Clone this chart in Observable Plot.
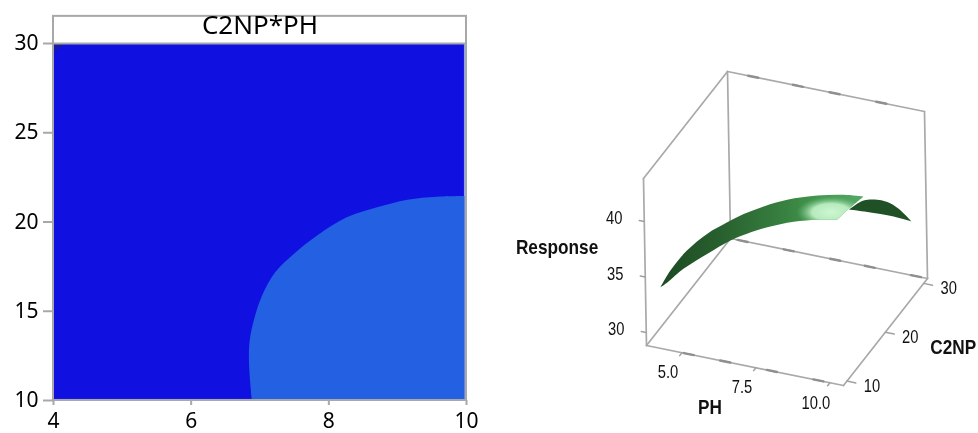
<!DOCTYPE html>
<html>
<head>
<meta charset="utf-8">
<script src="https://cdn.jsdelivr.net/npm/d3@7"></script>
<script src="https://cdn.jsdelivr.net/npm/@observablehq/plot@0.6"></script>
<style>
html,body{margin:0;padding:0;background:#fff;width:978px;height:433px;overflow:hidden}
#left,#right{position:absolute;top:0}
#left{left:0;filter:blur(.35px)}
#right{left:480px;filter:blur(.6px)}
svg{display:block;overflow:visible;background:transparent}
</style>
</head>
<body>
<div id="left"></div>
<div id="right"></div>
<script>
// ---- contour panel ----
const contourTitle = "C2NP*PH";
const phTicks = [4, 6, 8, 10];
const c2npTicks = [10, 15, 20, 25, 30];
const bandPH =   [6.88, 6.84, 6.85, 6.91, 7.03, 7.22, 7.49, 7.83, 8.26, 8.70, 9.14, 9.57, 10];
const bandC2NP = [10, 12.15, 13.36, 14.48, 15.88, 17.18, 18.21, 19.24, 20.26, 20.82, 21.25, 21.42, 21.46];
const cornerPH =   [4, 4.17, 4.03, 4];
const cornerC2NP = [30, 30, 29.55, 29.55];

// ---- surface panel ----
const sheetPH = [4.19, 4.43, 4.83, 5.31, 5.79, 6.18, 6.65, 7.20, 7.91, 8.52, 8.98, 8.63, 8.35, 7.88, 7.34, 6.72, 6.24, 5.85, 5.30, 4.74, 4.36];
const sheetC2NP = [10, 10.8, 12.1, 13.7, 15.3, 16.6, 18.2, 20.1, 22.5, 24.6, 26.2, 25, 24.1, 22.5, 20.6, 18.5, 16.9, 15.6, 13.7, 11.9, 10.5];
const sheetResponse = [33.9, 35.18, 36.62, 37.68, 38.28, 38.66, 38.9, 38.96, 38.67, 38.14, 37.53, 36.76, 36.02, 36.47, 36.84, 36.93, 36.78, 36.55, 35.87, 35.04, 34.2];
const foldPH = [8.63, 8.98, 9.29, 9.53, 9.79, 10.08, 9.67, 9.06];
const foldC2NP = [25, 26.2, 27.3, 28.1, 29, 30, 28.6, 26.5];
const foldResponse = [36.69, 37.17, 36.93, 36.49, 35.63, 34.21, 35.05, 36.04];
const responseTicks = [30, 35, 40];
const phAxisTicks = [5, 7.5, 10];
const phAxisLabels = ["5.0", "7.5", "10.0"];
const c2npAxisTicks = [10, 20, 30];
const phDashesFront = [5.23, 6.46, 8.04, 9.61];
const phDashesTop = [4.67, 6.18, 7.42, 9.0];
const phDashesBack = [4.21, 5.77, 7.34, 8.51, 10.07];
const PH_MIN = 3.8, PH_MAX = 10.46, C_MIN = 9.1, C_MAX = 31, R_MIN = 28.83, R_MAX = 43.88;

// Repeating a vertex makes a sharp corner in a Catmull-Rom outline.
const sharp = (rows, corners) => rows.flatMap((d, i) => corners.includes(i) ? [d, d] : [d]);

// ---- left panel ----
const band = bandPH.map((x, i) => ({x: Math.min(x, 9.97), y: Math.max(bandC2NP[i], 10.06)}));
const bandClosed = sharp([...band, {x: 9.97, y: 10.06}, band[0]], [0, band.length - 1, band.length, band.length + 1]);
const corner = cornerPH.map((x, i) => ({x, y: cornerC2NP[i]}));
const left = Plot.plot({
  width: 480, height: 433,
  marginLeft: 53, marginRight: 14, marginTop: 43, marginBottom: 33,
  style: {background: "transparent", fontFamily: "'Noto Sans', sans-serif", overflow: "visible"},
  x: {domain: [4, 10]},
  y: {domain: [10, 30]},
  marks: [
    Plot.rect([{x1: 4, x2: 10, y1: 10, y2: 30}], {x1: "x1", x2: "x2", y1: "y1", y2: "y2", fill: "#8aa4f6"}),
    Plot.rect([{x1: 4, x2: 9.97, y1: 10.06, y2: 30}], {x1: "x1", x2: "x2", y1: "y1", y2: "y2", fill: "#1010e0"}),
    Plot.line(bandClosed, {x: "x", y: "y", fill: "#2460e2", stroke: "none", curve: "catmull-rom"}),
    Plot.line(corner, {x: "x", y: "y", fill: "#1a1aa8", stroke: "none"}),
    Plot.rect([{x1: 4, x2: 10, y1: 10, y2: 31.52}], {x1: "x1", x2: "x2", y1: "y1", y2: "y2", fill: "none", stroke: "#a8a8a8", strokeWidth: 2}),
    Plot.ruleY([30], {x1: 4, x2: 10, stroke: "#a8a8a8", strokeWidth: 2}),
    Plot.text([contourTitle], {x: 7, y: 30.98, text: d => d, fontSize: 26, fill: "#000"}),
    Plot.axisX({ticks: phTicks, tickFormat: d => d, tickSize: 5, tickPadding: 8, fontSize: 21, stroke: "#a8a8a8", fill: "#000", strokeWidth: 2, label: null}),
    Plot.axisY({ticks: c2npTicks, tickFormat: d => d, tickSize: 10, tickPadding: 5, fontSize: 21, stroke: "#a8a8a8", fill: "#000", strokeWidth: 2, label: null})
  ]
});
document.getElementById("left").append(left);

// ---- right panel: oblique view of (PH, C2NP, Response) ----
const viewX = (p, c, r) => 646 + 197 * (p - PH_MIN) / (PH_MAX - PH_MIN) + 84 * (c - C_MIN) / (C_MAX - C_MIN) - 3 * (r - R_MIN) / (R_MAX - R_MIN);
const viewY = (p, c, r) => 345 + 40 * (p - PH_MIN) / (PH_MAX - PH_MIN) - 107 * (c - C_MIN) / (C_MAX - C_MIN) - 167 * (r - R_MIN) / (R_MAX - R_MIN);
const pt = (p, c, r, id) => ({x: viewX(p, c, r), y: viewY(p, c, r), id});
const seg = (id, a, b) => [pt(...a, id), pt(...b, id)];

const sheetRaw = sheetPH.map((p, i) => pt(p, sheetC2NP[i], sheetResponse[i]));
const sheet = sharp([...sheetRaw, sheetRaw[0]], [0, 10, 11, 12, sheetRaw.length]);
const foldRaw = foldPH.map((p, i) => pt(p, foldC2NP[i], foldResponse[i]));
const fold = sharp([...foldRaw, foldRaw[0]], [0, 5, foldRaw.length]);

const frameEdges = [
  seg("a", [PH_MIN, C_MIN, R_MIN], [PH_MAX, C_MIN, R_MIN]),
  seg("b", [PH_MAX, C_MIN, R_MIN], [PH_MAX, C_MAX, R_MIN]),
  seg("c", [PH_MIN, C_MAX, R_MIN], [PH_MAX, C_MAX, R_MIN]),
  seg("d", [PH_MIN, C_MIN, R_MIN], [PH_MIN, C_MAX, R_MIN]),
  seg("e", [PH_MIN, C_MAX, R_MIN], [PH_MIN, C_MAX, R_MAX]),
  seg("f", [PH_MIN, C_MIN, R_MIN], [PH_MIN, C_MIN, R_MAX]),
  seg("g", [PH_MIN, C_MIN, R_MAX], [PH_MIN, C_MAX, R_MAX]),
  seg("h", [PH_MIN, C_MAX, R_MAX], [PH_MAX, C_MAX, R_MAX]),
  seg("i", [PH_MAX, C_MAX, R_MIN], [PH_MAX, C_MAX, R_MAX])
].flat();

const dash = (list, c, r, tag) => list.flatMap((p, i) => seg(tag + i, [p - 0.17, c, r], [p + 0.17, c, r]));
const dashes = [
  ...dash(phDashesFront, C_MIN, R_MIN, "fr"),
  ...dash(phDashesTop, C_MAX, R_MAX, "to"),
  ...dash(phDashesBack, C_MAX, R_MIN, "ba")
];
const ticks3d = [
  ...responseTicks.flatMap((r, i) => seg("r" + i, [PH_MIN, C_MIN, r], [PH_MIN - 0.17, C_MIN, r])),
  ...phAxisTicks.flatMap((p, i) => seg("p" + i, [p, C_MIN, R_MIN], [p, C_MIN - 0.6, R_MIN])),
  ...c2npAxisTicks.flatMap((c, i) => seg("q" + i, [PH_MAX, c, R_MIN], [PH_MAX + 0.3, c, R_MIN]))
];
const numFont = "'Liberation Sans', sans-serif";
const labelAt = (list, fn, text, dx, dy, fontSize, weight) =>
  Plot.text(list.map((v, i) => ({...fn(v), t: text[i]})), {x: "x", y: "y", text: "t", dx, dy, fontSize, fontWeight: weight, fill: "#111", fontFamily: numFont});

const defs = () => {
  const d = d3.create("svg:defs");
  const lg = d.append("linearGradient").attr("id", "sheetBase");
  [[0, "#1c4a22"], [0.3, "#29602f"], [0.6, "#37803f"], [0.8, "#459a52"], [1, "#56a866"]]
    .forEach(([o, c]) => lg.append("stop").attr("offset", o).attr("stop-color", c));
  const rg = d.append("radialGradient").attr("id", "sheetGlow")
    .attr("cx", 0.84).attr("cy", 0.19).attr("r", 0.17);
  [[0, "#cdf7d2", 1], [0.55, "#bdeec3", 0.95], [1, "#6dbb7b", 0]]
    .forEach(([o, c, a]) => rg.append("stop").attr("offset", o).attr("stop-color", c).attr("stop-opacity", a));
  return d.node();
};

const right = Plot.plot({
  width: 498, height: 433,
  margin: 0,
  style: {background: "transparent", overflow: "visible"},
  x: {domain: [480, 978], range: [0, 498], axis: null},
  y: {domain: [0, 433], range: [0, 433], axis: null},
  marks: [
    defs,
    Plot.line(frameEdges, {x: "x", y: "y", z: "id", stroke: "#a9a9a9", strokeWidth: 1.7}),
    Plot.line(dashes, {x: "x", y: "y", z: "id", stroke: "#8f8f8f", strokeWidth: 2.4}),
    Plot.line(ticks3d, {x: "x", y: "y", z: "id", stroke: "#a0a0a0", strokeWidth: 1.5}),
    Plot.line(fold, {x: "x", y: "y", fill: "#1f5026", stroke: "none", curve: "catmull-rom"}),
    Plot.line(sheet, {x: "x", y: "y", fill: "url(#sheetBase)", stroke: "none", curve: "catmull-rom"}),
    Plot.line(sheet, {x: "x", y: "y", fill: "url(#sheetGlow)", stroke: "none", curve: "catmull-rom"}),
    labelAt(responseTicks, r => pt(PH_MIN, C_MIN, r), responseTicks.map(String), -30, -3, 18, 400),
    labelAt(phAxisTicks, p => pt(p, C_MIN, R_MIN), phAxisLabels, -14, 20, 18, 400),
    labelAt(c2npAxisTicks, c => pt(PH_MAX, c, R_MIN), c2npAxisTicks.map(String), 25, 5, 18, 400),
    labelAt([36], r => pt(PH_MIN, C_MIN, r), ["Response"], -88, -19, 21, 700),
    labelAt([7.13], p => pt(p, C_MIN, R_MIN), ["PH"], -35, 42, 21, 700),
    labelAt([20], c => pt(PH_MAX, c, R_MIN), ["C2NP"], 68, 15, 21, 700)
  ]
});
document.getElementById("right").append(right);
// The reference's right-hand labels are horizontally condensed.
right.querySelectorAll("text").forEach(t => {
  t.setAttribute("textLength", (t.getComputedTextLength() * 0.82).toFixed(1));
  t.setAttribute("lengthAdjust", "spacingAndGlyphs");
});
</script>
</body>
</html>
